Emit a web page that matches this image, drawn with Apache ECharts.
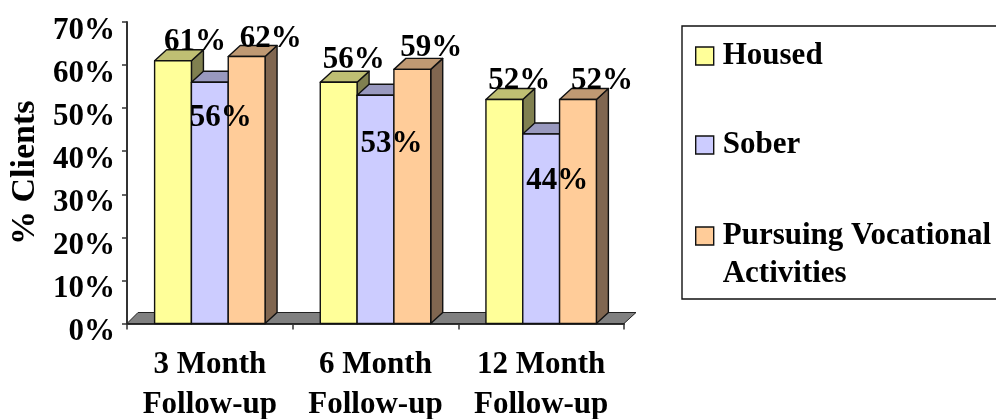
<!DOCTYPE html>
<html><head><meta charset="utf-8">
<style>html,body{margin:0;padding:0;background:#fff;overflow:hidden}#c{width:996px;height:419px}</style>
<script src="https://cdn.jsdelivr.net/npm/echarts@6/dist/echarts.min.js"></script>
</head><body><div id="c"></div>
<script>
const categories = ['3 Month\nFollow-up', '6 Month\nFollow-up', '12 Month\nFollow-up'];
const housed = [61, 56, 52];
const sober = [56, 53, 44];
const vocational = [62, 59, 52];
const yTicks = {min: 0, max: 70, interval: 10};

const FONT = '"Liberation Serif","Times New Roman",serif';
const palette = [
  {name: 'Housed', values: housed, face: '#FFFF99', top: '#BFBF73', side: '#808050'},
  {name: 'Sober', values: sober, face: '#CCCCFF', top: '#9999BF', side: '#666680'},
  {name: 'Pursuing Vocational Activities', values: vocational, face: '#FFCC99', top: '#BF9973', side: '#806650'}
];
// hand-placed label nudges (px from bar centre / bar top), as in the source slide
const labelNudge = [
  [[22, -19], [15, -22], [15, -19]],
  [[11, 36], [16, 49], [16, 47]],
  [[24, -17], [19, -21], [24, -19]]
];
const DX = 12, DY = 11, EDGE = '#111', LW = 1.4;

function barSeries(p, si) {
  return {
    type: 'custom', name: p.name, coordinateSystem: 'cartesian2d', silent: true, z: 3 + si,
    itemStyle: {color: p.face},
    data: p.values.map((v, i) => [i, v]),
    renderItem(params, api) {
      const base = api.coord([api.value(0), 0]);
      const topPt = api.coord([api.value(0), api.value(1)]);
      const w = api.size([1, 0])[0] / 4.5;
      const x = base[0] + (si - 1.5) * w, y = topPt[1], b = base[1];
      const st = c => ({fill: c, stroke: EDGE, lineWidth: LW, lineJoin: 'round'});
      return {type: 'group', children: [
        {type: 'polygon', shape: {points: [[x + w, y], [x + w + DX, y - DY], [x + w + DX, b - DY], [x + w, b]]}, style: st(p.side)},
        {type: 'polygon', shape: {points: [[x, y], [x + DX, y - DY], [x + w + DX, y - DY], [x + w, y]]}, style: st(p.top)},
        {type: 'rect', shape: {x, y, width: w, height: b - y}, style: st(p.face)}
      ]};
    }
  };
}
const floorSeries = {
  type: 'custom', coordinateSystem: 'cartesian2d', silent: true, z: 1, data: [[0, 0]],
  renderItem(params, api) {
    const c = params.coordSys, b = c.y + c.height, r = c.x + c.width;
    return {type: 'polygon', shape: {points: [[c.x, b], [c.x + DX - 1, b - DY], [r + DX, b - DY], [r, b]]},
      style: {fill: '#808080', stroke: '#222', lineWidth: 1}};
  }
};
const labelData = [];
palette.forEach((p, si) => p.values.forEach((v, i) => labelData.push([i, v, si])));
const labelSeries = {
  type: 'custom', coordinateSystem: 'cartesian2d', silent: true, z: 10, data: labelData,
  renderItem(params, api) {
    const i = api.value(0), v = api.value(1), si = api.value(2);
    const base = api.coord([i, v]);
    const w = api.size([1, 0])[0] / 4.5;
    const n = labelNudge[si][i];
    return {type: 'text', style: {
      x: base[0] + (si - 1) * w + n[0], y: base[1] + n[1], text: v + '%',
      fill: '#000', font: 'bold 31px ' + FONT, align: 'center', verticalAlign: 'middle'}};
  }
};

const legendBase = {
  orient: 'vertical', left: 695, itemWidth: 18, itemHeight: 18, itemGap: 0, padding: 0,
  icon: 'rect', selectedMode: false,
  itemStyle: {borderColor: '#111', borderWidth: 1.4},
  textStyle: {fontFamily: FONT, fontWeight: 'bold', fontSize: 31, color: '#000', lineHeight: 38, padding: [0, 0, 0, 4]}
};
const chart = echarts.init(document.getElementById('c'), null, {renderer: 'canvas'});
chart.setOption({
  animation: false,
  backgroundColor: '#fff',
  grid: {left: 127, top: 22, width: 497, height: 301.5, outerBoundsMode: 'none'},
  graphic: [{type: 'rect', shape: {x: 682, y: 26, width: 400, height: 273},
    style: {fill: '#fff', stroke: '#111', lineWidth: 1.4}, z: -1}],
  legend: [
    Object.assign({}, legendBase, {data: ['Housed'], top: 37}),
    Object.assign({}, legendBase, {data: ['Sober'], top: 126}),
    Object.assign({}, legendBase, {data: ['Pursuing Vocational Activities'], top: 179,
      formatter: () => ' \nPursuing Vocational\nActivities'})
  ],
  xAxis: {
    type: 'category', data: categories, boundaryGap: true,
    axisLine: {lineStyle: {color: '#333', width: 2}},
    axisTick: {show: true, length: 6, lineStyle: {color: '#333', width: 1.5}, alignWithLabel: false},
    axisLabel: {fontFamily: FONT, fontWeight: 'bold', fontSize: 31, color: '#000', lineHeight: 40, margin: 21, interval: 0}
  },
  yAxis: {
    type: 'value', min: yTicks.min, max: yTicks.max, interval: yTicks.interval,
    name: '% Clients', nameLocation: 'middle', nameRotate: 90, nameGap: 85,
    nameTextStyle: {fontFamily: FONT, fontWeight: 'bold', fontSize: 34, color: '#000'},
    splitLine: {show: false},
    axisLine: {show: true, lineStyle: {color: '#333', width: 2}},
    axisTick: {show: true, length: 5, lineStyle: {color: '#333', width: 1.5}},
    axisLabel: {formatter: '{value}%', fontFamily: FONT, fontWeight: 'bold', fontSize: 31, color: '#000', margin: 12, verticalAlign: 'top', lineHeight: 17}
  },
  series: [floorSeries].concat(palette.map(barSeries), [labelSeries])
});
</script></body></html>
